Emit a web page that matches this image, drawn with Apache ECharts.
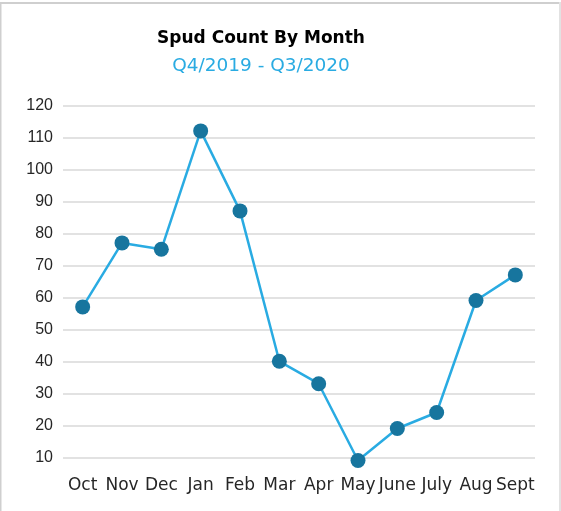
<!DOCTYPE html>
<html>
<head>
<meta charset="utf-8">
<script src="https://cdn.jsdelivr.net/npm/echarts@6/dist/echarts.min.js"></script>
<style>
html,body{margin:0;padding:0;background:#fff;}
#chart{width:561px;height:511px;}
</style>
</head>
<body>
<div id="chart"></div>
<script>
const months = ['Oct','Nov','Dec','Jan','Feb','Mar','Apr','May','June','July','Aug','Sept'];
const spudCounts = [57, 77, 75, 112, 87, 40, 33, 9, 19, 24, 59, 67];
const yTicks = { min: 10, max: 120, interval: 10 };
const titleText = 'Spud Count By Month';
const subtitleText = 'Q4/2019 - Q3/2020';

const FONT = 'DejaVu Sans';
const chart = echarts.init(document.getElementById('chart'), null, { renderer: 'canvas' });
chart.setOption({
  backgroundColor: '#ffffff',
  animation: false,
  graphic: [
    { type: 'rect', shape: { x: 0, y: 2, width: 561, height: 2 }, style: { fill: '#cfcfcf' }, silent: true },
    { type: 'rect', shape: { x: 0, y: 2, width: 1.5, height: 509 }, style: { fill: '#cfcfcf' }, silent: true },
    { type: 'rect', shape: { x: 559, y: 2, width: 2, height: 509 }, style: { fill: '#e2e2e2' }, silent: true },
    { type: 'text', x: 261, y: 38.5, silent: true,
      style: { text: titleText, textAlign: 'center', textVerticalAlign: 'middle',
               font: 'bold 17px "DejaVu Sans"', fill: '#000000' } },
    { type: 'text', x: 261, y: 66, silent: true,
      style: { text: subtitleText, textAlign: 'center', textVerticalAlign: 'middle',
               font: '18.5px "DejaVu Sans"', fill: '#29abe2' } }
  ],
  grid: { left: 63, right: 26, top: 105.3, bottom: 53.7, containLabel: false },
  xAxis: {
    type: 'category',
    data: months,
    boundaryGap: true,
    axisLine: { show: false },
    axisTick: { show: false },
    axisLabel: { fontFamily: FONT, fontSize: 17, color: '#262626', margin: 20, interval: 0 }
  },
  yAxis: {
    type: 'value',
    min: yTicks.min,
    max: yTicks.max,
    interval: yTicks.interval,
    axisLine: { show: false },
    axisTick: { show: false },
    axisLabel: { fontFamily: 'Liberation Sans', fontSize: 16, color: '#262626', margin: 10 },
    splitLine: { lineStyle: { color: '#d9d9d9', width: 1.5 } }
  },
  series: [{
    type: 'line',
    data: spudCounts,
    clip: false,
    symbol: 'circle',
    symbolSize: 15,
    lineStyle: { color: '#29abe2', width: 2.5 },
    itemStyle: { color: '#17759e' },
    z: 3
  }]
});
</script>
</body>
</html>
